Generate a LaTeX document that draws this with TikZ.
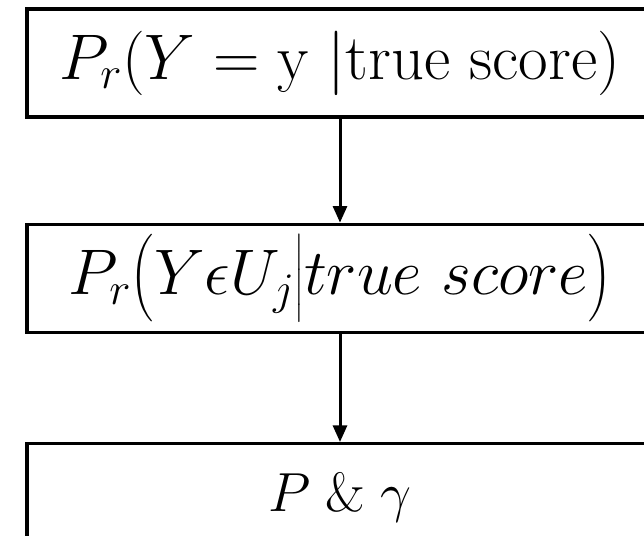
\RequirePackage{fix-cm}
\documentclass[tikz,border=0pt]{standalone}
\usepackage{amsmath}
\usepackage{tikz}
\usetikzlibrary{positioning,arrows.meta}

\begin{document}
\begin{tikzpicture}[>={Triangle[length=0.5cm,width=0.42cm]}, x=0.03cm, y=0.03cm,
  flowbox/.style={draw, line width=0.1cm, minimum width=18.78cm, minimum height=3.24cm,
    inner sep=0pt, font=\fontsize{55}{66}\selectfont},
  flowarrow/.style={->, line width=0.09cm}]
  % page frame, boxes run past its right and bottom edges
  \useasboundingbox (0,0) rectangle (644,536);
  \clip (0,0) rectangle (644,536);
  % the three boxes
  \node[flowbox] (pyx) at (340,473) {$P_r(Y = \mathrm{y}\;|\text{true score})$};
  \node[flowbox, below=3.12cm of pyx] (puj) {$P_r\bigl(Y\epsilon U_j\big|true\ score\bigr)$};
  \node[flowbox, below=3.24cm of puj, font=\fontsize{47}{56}\selectfont] (pg) {$P\;\&\;\gamma$};
  % arrows between them
  \draw[flowarrow] (pyx) -- (puj);
  \draw[flowarrow] (puj) -- (pg);
\end{tikzpicture}
\end{document}
